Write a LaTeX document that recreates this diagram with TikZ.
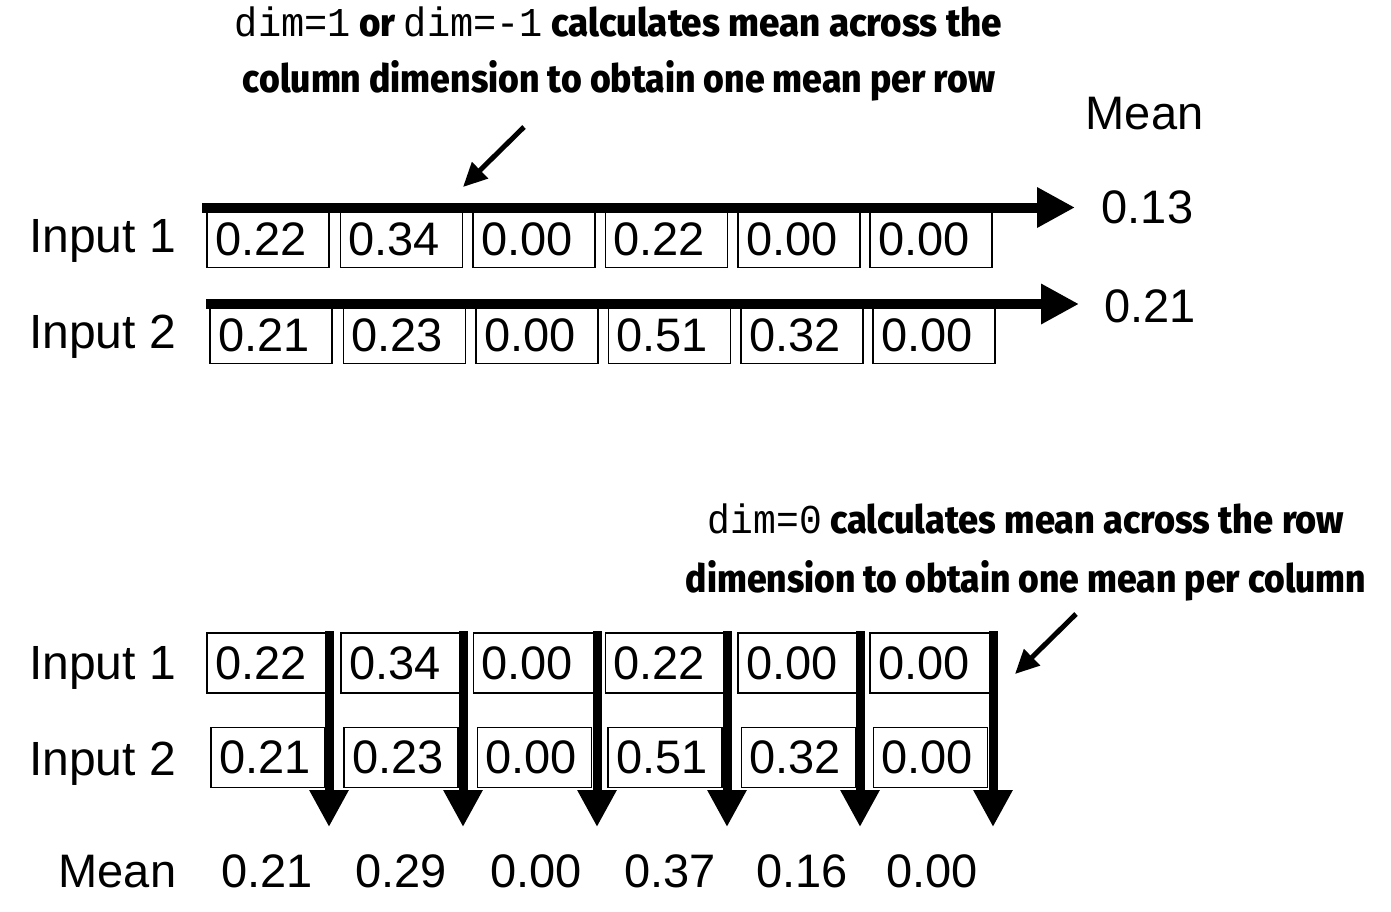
\documentclass[tikz,border=0pt]{standalone}
\usepackage{fontspec}
\usepackage{graphicx}
\setmainfont{Liberation Sans}
\newfontfamily\codef{Liberation Mono}
\newfontfamily\boldf{Fira Sans}[BoldFont={Fira Sans ExtraBold}]
\usetikzlibrary{arrows.meta}
\newcommand{\bt}[1]{{\boldf\bfseries\fontsize{39}{39}\selectfont #1}}
\newcommand{\ct}[1]{{\codef\fontsize{41}{41}\selectfont #1}}
\tikzset{
 cell/.style={draw, line width=1.5pt, inner xsep=8pt, inner ysep=0pt, align=left,
   font=\fontsize{47}{47}\selectfont},
 topcell/.style={cell, text width=106pt, minimum height=56pt},
 botcell/.style={cell, text width=104pt, minimum height=60pt},
 botcelltwo/.style={cell, text width=98pt, minimum height=60pt},
 lbl/.style={inner sep=0pt, anchor=base west, font=\fontsize{48}{48}\selectfont},
 num/.style={inner sep=0pt, anchor=base, font=\fontsize{47}{47}\selectfont},
 note/.style={inner sep=0pt, anchor=base},
 harrow/.style={line width=10pt, -{Triangle[length=38pt,width=38pt]}},
 varrow/.style={line width=9pt, -{Triangle[length=37pt,width=37pt]}},
 ptr/.style={line width=5pt, -{Triangle[length=24pt,width=22pt]}},
}
\begin{document}
\begin{tikzpicture}[x=1pt,y=-1pt]
\fill[white] (0,0) rectangle (1391,911);
\useasboundingbox (0,0) rectangle (1391,911);

% ---------- top part ----------
\node[note] (t1) at (618.5,36) {\resizebox{767pt}{\height}{\ct{dim=1}\bt{ or }\ct{dim=-1}\bt{ calculates mean across the}}};
\node[note] (t2) at (619,92) {\resizebox{752pt}{\height}{\bt{column dimension to obtain one mean per row}}};

\node[lbl] (in1) at (29,252) {Input 1};
\node[lbl] (in2) at (29,348) {Input 2};

\node[topcell] (a11) at (268,239.5) {0.22};
\node[topcell] (a12) at (401.5,239.5) {0.34};
\node[topcell] (a13) at (534,239.5) {0.00};
\node[topcell] (a14) at (666.5,239.5) {0.22};
\node[topcell] (a15) at (799,239.5) {0.00};
\node[topcell] (a16) at (931,239.5) {0.00};

\node[topcell] (a21) at (271,335.5) {0.21};
\node[topcell] (a22) at (404.5,335.5) {0.23};
\node[topcell] (a23) at (537,335.5) {0.00};
\node[topcell] (a24) at (669.5,335.5) {0.51};
\node[topcell] (a25) at (802,335.5) {0.32};
\node[topcell] (a26) at (934,335.5) {0.00};

\node[num] (mh) at (1144.5,129) {Mean};
\node[num] (m1) at (1147.5,223) {0.13};
\node[num] (m2) at (1150,322) {0.21};

\coordinate (r1s) at (202,207.5);
\coordinate (r1e) at (1075,207.5);
\coordinate (r2s) at (206,304);
\coordinate (r2e) at (1079,304);
\draw[harrow] (r1s) -- (r1e);
\draw[harrow] (r2s) -- (r2e);

\coordinate (p1s) at (524,127);
\coordinate (p1e) at (463,187);
\draw[ptr] (p1s) -- (p1e);

% ---------- bottom part ----------
\node[note] (b1) at (1026,533) {\resizebox{636pt}{\height}{\ct{dim=0}\bt{ calculates mean across the row}}};
\node[note] (b2) at (1026,592) {\resizebox{680pt}{\height}{\bt{dimension to obtain one mean per column}}};

\node[lbl] (bin1) at (29,679) {Input 1};
\node[lbl] (bin2) at (29,775) {Input 2};

\node[botcell] (b11) at (267,663) {0.22};
\node[botcell] (b12) at (401,663) {0.34};
\node[botcell] (b13) at (533.5,663) {0.00};
\node[botcell] (b14) at (665.5,663) {0.22};
\node[botcell] (b15) at (798,663) {0.00};
\node[botcell] (b16) at (930,663) {0.00};

\node[botcelltwo] (b21) at (268,757.5) {0.21};
\node[botcelltwo] (b22) at (401,757.5) {0.23};
\node[botcelltwo] (b23) at (534.5,757.5) {0.00};
\node[botcelltwo] (b24) at (665,757.5) {0.51};
\node[botcelltwo] (b25) at (798.5,757.5) {0.32};
\node[botcelltwo] (b26) at (930.5,757.5) {0.00};

\foreach \i/\x in {1/329,2/463,3/597,4/727,5/860,6/993}{
  \coordinate (c\i s) at (\x,631);
  \coordinate (c\i e) at (\x,827);
  \draw[varrow] (c\i s) -- (c\i e);
}

\coordinate (p2s) at (1076,614);
\coordinate (p2e) at (1015,674);
\draw[ptr] (p2s) -- (p2e);

\node[num] (bm) at (117.5,887) {Mean};
\node[num] (n1) at (267,887) {0.21};
\node[num] (n2) at (401,887) {0.29};
\node[num] (n3) at (536,887) {0.00};
\node[num] (n4) at (670,887) {0.37};
\node[num] (n5) at (802,887) {0.16};
\node[num] (n6) at (932,887) {0.00};
\end{tikzpicture}
\end{document}
